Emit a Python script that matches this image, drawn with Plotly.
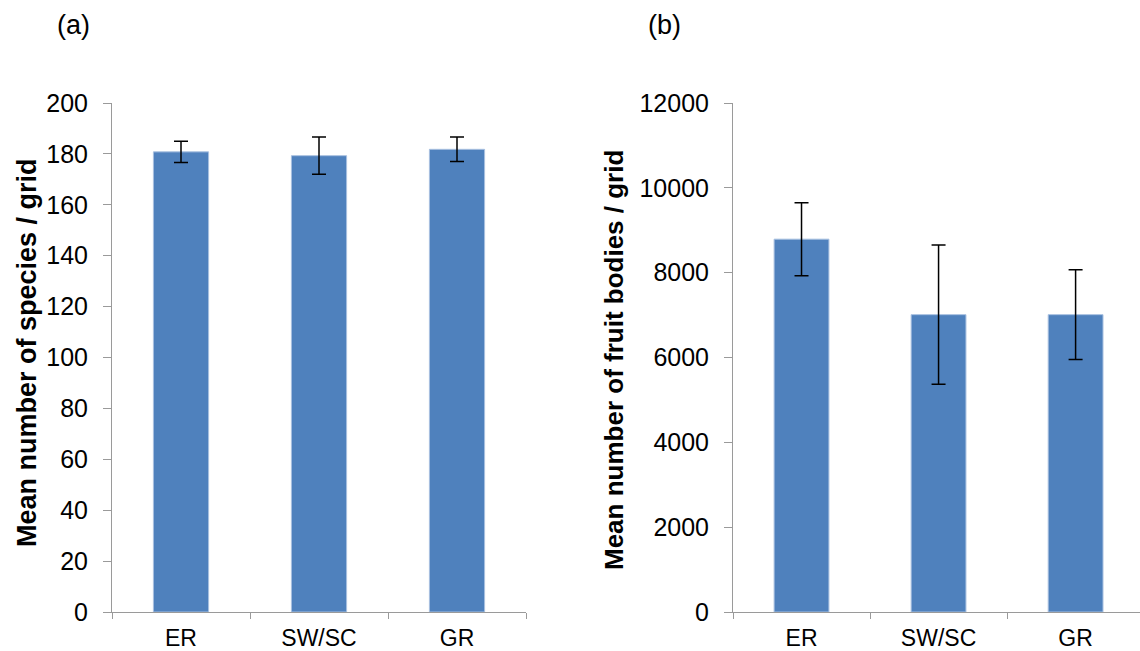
import plotly.graph_objects as go

categories = ["ER", "SW/SC", "GR"]
species_mean = [180.8, 179.3, 181.8]
species_err = [4.2, 7.3, 4.8]
fruit_mean = [8790, 7010, 7010]
fruit_err = [860, 1640, 1060]

W, H = 1140, 651
BAR = "#4F81BD"
AX = "#9A9A9A"
FONT = "Liberation Sans, Arial, sans-serif"

def px(x):
    return x / W

def py(y):
    return 1 - y / H

fig = go.Figure()
fig.add_trace(go.Bar(x=categories, y=species_mean, marker=dict(color=BAR, line=dict(color="#A8C0E0", width=1)),
                     error_y=dict(type="data", array=species_err, color="black", thickness=1.5, width=7),
                     xaxis="x", yaxis="y", showlegend=False))
fig.add_trace(go.Bar(x=categories, y=fruit_mean, marker=dict(color=BAR, line=dict(color="#A8C0E0", width=1)),
                     error_y=dict(type="data", array=fruit_err, color="black", thickness=1.5, width=7),
                     xaxis="x2", yaxis="y2", showlegend=False))

xcommon = dict(type="category", showline=True, linecolor=AX, linewidth=1, ticks="outside", tickson="boundaries",
               ticklen=6, tickcolor=AX, showgrid=False, tickfont=dict(family=FONT, size=23, color="black"),
               zeroline=False, automargin=False, ticklabelstandoff=5)
ycommon = dict(showline=True, linecolor=AX, linewidth=1, ticks="outside", ticklen=8, tickcolor=AX,
               showgrid=False, zeroline=False, tickfont=dict(family=FONT, size=25, color="black"),
               automargin=False, ticklabelstandoff=10, tickformat="d")

fig.update_layout(
    width=W, height=H, margin=dict(l=0, r=0, t=0, b=0), template="none",
    paper_bgcolor="white", plot_bgcolor="white", bargap=0.6,
    xaxis=dict(domain=[px(112), px(526)], anchor="y", range=[-0.5, 2.5], **xcommon),
    yaxis=dict(domain=[py(612), py(103)], anchor="x", range=[0, 200], dtick=20, **ycommon),
    xaxis2=dict(domain=[px(733), 1.0], anchor="y2", range=[-0.5, 2.47], **xcommon),
    yaxis2=dict(domain=[py(612), py(103)], anchor="x2", range=[0, 12000], dtick=2000, **ycommon),
    annotations=[
        dict(text="(a)", x=px(73), y=py(25), xref="paper", yref="paper", showarrow=False,
             xanchor="center", yanchor="middle", font=dict(family=FONT, size=27, color="black")),
        dict(text="(b)", x=px(664), y=py(25), xref="paper", yref="paper", showarrow=False,
             xanchor="center", yanchor="middle", font=dict(family=FONT, size=27, color="black")),
        dict(text="<b>Mean number of species / grid</b>", x=px(27), y=py(353), xref="paper", yref="paper",
             xanchor="center", yanchor="middle",
             showarrow=False, textangle=-90, font=dict(family=FONT, size=27, color="black")),
        dict(text="<b>Mean number of fruit bodies / grid</b>", x=px(614), y=py(360), xref="paper", yref="paper",
             xanchor="center", yanchor="middle",
             showarrow=False, textangle=-90, font=dict(family=FONT, size=26, color="black")),
    ],
)

fig.write_html("out.html")
